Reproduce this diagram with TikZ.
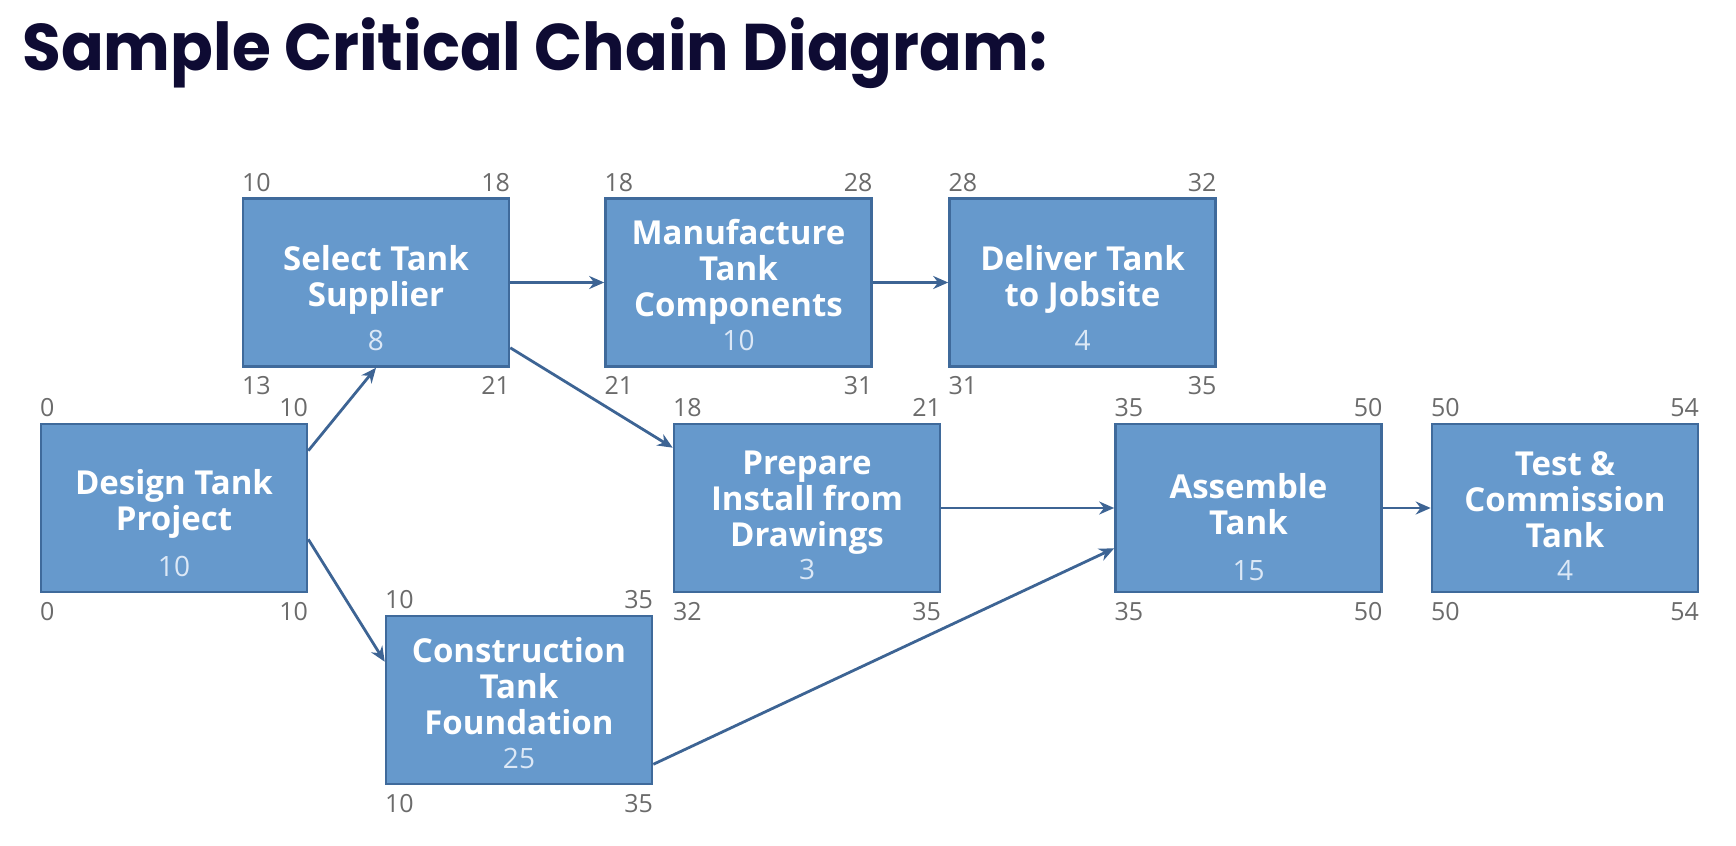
\documentclass[tikz,border=0pt]{standalone}
\usepackage{fontspec}
\setmainfont{Open Sans}
\newfontfamily\headfont{Poppins}[FakeStretch=0.955]
\usetikzlibrary{arrows.meta}

\definecolor{boxfill}{HTML}{6699CC}
\definecolor{boxline}{HTML}{3F6A9B}
\definecolor{linkcol}{HTML}{3D6494}
\definecolor{durcol}{HTML}{DCE8F6}
\definecolor{cornercol}{HTML}{6B6B6B}
\definecolor{headcol}{HTML}{0E0B33}

\begin{document}
\begin{tikzpicture}[x=0.5pt, y=-0.5pt,
        task/.style={draw=boxline, fill=boxfill, line width=1.3pt, rectangle,
                minimum width=133pt, minimum height=84pt, inner sep=0pt},
        tname/.style={anchor=north, inner sep=0pt, align=center, text=white,
                font=\bfseries\fontsize{16.5}{18}\selectfont},
        dur/.style={anchor=base, inner sep=0pt, text=durcol,
                font=\fontsize{14}{16}\selectfont},
        corner/.style={inner sep=0pt, text=cornercol, font=\fontsize{12.5}{14}\selectfont},
        es/.style={corner, anchor=base west, yshift=3pt},
        ef/.style={corner, anchor=base east, yshift=3pt},
        ls/.style={corner, anchor=base west, yshift=-13.5pt},
        lf/.style={corner, anchor=base east, yshift=-13.5pt},
        link/.style={-{Stealth[length=7.5pt, width=6.5pt]}, line width=1.4pt, draw=linkcol}
    ]
    \useasboundingbox (0,0) rectangle (1736,846);

    \def\rtop{282.5}
    \def\rmid{508}
    \def\rlow{700}

    \node[anchor=base west, inner sep=0pt, text=headcol,
        font=\headfont\bfseries\fontsize{33}{40}\selectfont] (title) at (22,70)
        {Sample Critical Chain Diagram:};

    % tasks
    \node[task, label={[es]north west:0}, label={[ef]north east:10},
        label={[ls]south west:0}, label={[lf]south east:10}] (design) at (174,\rmid) {};
    \node[task, label={[es]north west:10}, label={[ef]north east:18},
        label={[ls]south west:13}, label={[lf]south east:21}] (select) at (376,\rtop) {};
    \node[task, label={[es]north west:18}, label={[ef]north east:28},
        label={[ls]south west:21}, label={[lf]south east:31}] (manuf) at (738.5,\rtop) {};
    \node[task, label={[es]north west:28}, label={[ef]north east:32},
        label={[ls]south west:31}, label={[lf]south east:35}] (deliver) at (1082.5,\rtop) {};
    \node[task, label={[es]north west:18}, label={[ef]north east:21},
        label={[ls]south west:32}, label={[lf]south east:35}] (prepare) at (807,\rmid) {};
    \node[task, label={[es]north west:10}, label={[ef]north east:35},
        label={[ls]south west:10}, label={[lf]south east:35}] (found) at (519,\rlow) {};
    \node[task, label={[es]north west:35}, label={[ef]north east:50},
        label={[ls]south west:35}, label={[lf]south east:50}] (assemble) at (1248.5,\rmid) {};
    \node[task, label={[es]north west:50}, label={[ef]north east:54},
        label={[ls]south west:50}, label={[lf]south east:54}] (test) at (1565,\rmid) {};

    % names
    \node[tname] (design-n) at ([yshift=-23pt]design.north) {Design Tank\\Project};
    \node[tname] (select-n) at ([yshift=-24pt]select.north) {Select Tank\\Supplier};
    \node[tname] (manuf-n) at ([yshift=-11pt]manuf.north) {Manufacture\\Tank\\Components};
    \node[tname] (deliver-n) at ([yshift=-24pt]deliver.north) {Deliver Tank\\to Jobsite};
    \node[tname] (prepare-n) at ([yshift=-14pt]prepare.north) {Prepare\\Install from\\Drawings};
    \node[tname] (found-n) at ([yshift=-11pt]found.north) {Construction\\Tank\\Foundation};
    \node[tname] (assemble-n) at ([yshift=-25pt]assemble.north) {Assemble\\Tank};
    \node[tname] (test-n) at ([yshift=-14pt]test.north) {Test \&\\Commission\\Tank};

    % durations
    \node[dur] (design-d) at ([yshift=8.5pt]design.south) {10};
    \node[dur] (select-d) at ([yshift=8.5pt]select.south) {8};
    \node[dur] (manuf-d) at ([yshift=8.5pt]manuf.south) {10};
    \node[dur] (deliver-d) at ([yshift=8.5pt]deliver.south) {4};
    \node[dur] (prepare-d) at ([yshift=7pt]prepare.south) {3};
    \node[dur] (found-d) at ([yshift=8.5pt]found.south) {25};
    \node[dur] (assemble-d) at ([yshift=6.5pt]assemble.south) {15};
    \node[dur] (test-d) at ([yshift=6.5pt]test.south) {4};

    % links
    \draw[link] ([yshift=-14pt]design.north east) -- (select.south);
    \draw[link] ([yshift=27pt]design.south east) -- ([yshift=-23.5pt]found.north west);
    \draw[link] (select.east) -- (manuf.west);
    \draw[link] (manuf.east) -- (deliver.west);
    \draw[link] ([yshift=10pt]select.south east) -- ([yshift=-12.5pt]prepare.north west);
    \draw[link] (prepare.east) -- (assemble.west);
    \draw[link] ([yshift=10.5pt]found.south east) -- ([yshift=22.5pt]assemble.south west);
    \draw[link] (assemble.east) -- (test.west);
\end{tikzpicture}
\end{document}
